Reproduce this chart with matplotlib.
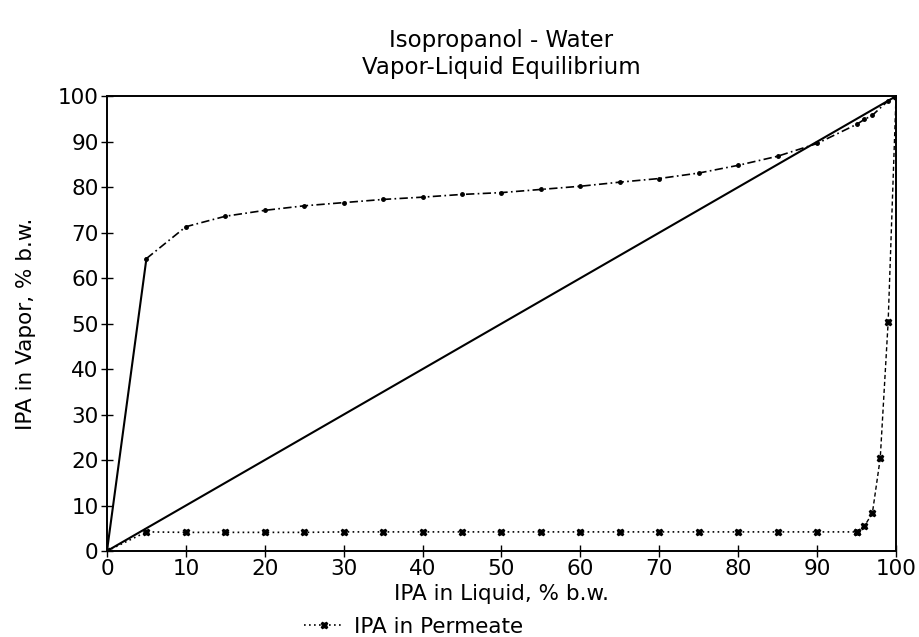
import numpy as np
import matplotlib
matplotlib.use('Agg')
import matplotlib.pyplot as plt
from matplotlib.lines import Line2D

# VLE curve (IPA in vapor vs IPA in liquid)
vle_x = [0, 5, 10, 15, 20, 25, 30, 35, 40, 45, 50, 55, 60, 65, 70, 75, 80, 85, 90, 95, 96, 97, 99, 100]
vle_y = [0, 64.3, 71.3, 73.6, 74.9, 75.9, 76.6, 77.3, 77.8, 78.4, 78.8, 79.5, 80.2, 81.1, 81.9,
         83.1, 84.8, 86.8, 89.6, 93.8, 94.9, 95.8, 99.0, 100]

# permeate curve
perm_x = [0, 5, 10, 15, 20, 25, 30, 35, 40, 45, 50, 55, 60, 65, 70, 75, 80, 85, 90, 95,
          96, 97, 98, 99, 100]
perm_y = [0, 4.2, 4.1, 4.1, 4.1, 4.1, 4.2, 4.2, 4.2, 4.2, 4.2, 4.2, 4.2, 4.2, 4.2, 4.2, 4.2,
          4.2, 4.2, 4.2, 5.5, 8.3, 20.4, 50.3, 100]

diag = [0, 100]

xticks = list(range(0, 101, 10))
yticks = list(range(0, 101, 10))

plt.rcParams['font.family'] = 'DejaVu Sans'

fig = plt.figure(figsize=(9.19, 6.37), dpi=100)
ax = fig.add_axes([0.1164, 0.135, 0.8586, 0.714])

# diagonal
ax.plot(diag, diag, color='black', lw=1.5)

# VLE: first segment solid, rest dash-dot with small dots
ax.plot(vle_x[:2], vle_y[:2], color='black', lw=1.5)
ax.plot(vle_x[1:], vle_y[1:], color='black', lw=1.2, ls=(0, (5, 2, 1, 2)),
        marker='o', ms=2.5)

# permeate: dotted up to 95, dashed beyond
ax.plot(perm_x[:20], perm_y[:20], color='black', lw=1.2, ls=(0, (1, 2)),
        marker='X', ms=4.5)
ax.plot(perm_x[19:], perm_y[19:], color='black', lw=1.0, ls=(0, (3, 2)),
        marker='X', ms=4.5)

ax.set_xlim(0, 100)
ax.set_ylim(0, 100)
ax.set_xticks(xticks)
ax.set_yticks(yticks)
ax.tick_params(direction='inout', length=8, width=1, labelsize=15.5, pad=2)
for s in ax.spines.values():
    s.set_linewidth(1.4)

ax.set_xlabel('IPA in Liquid, % b.w.', fontsize=15.5, labelpad=3)
ax.set_ylabel('IPA in Vapor, % b.w.', fontsize=15.5, labelpad=16)
ax.set_title('Isopropanol - Water\nVapor-Liquid Equilibrium', fontsize=16.5,
             linespacing=1.2, pad=16)

handle = Line2D([], [], color='black', lw=1.2, ls=(0, (1, 2)), marker='X', ms=4.5)
fig.legend([handle], ['IPA in Permeate'], loc='center', bbox_to_anchor=(0.45, 0.016),
           frameon=False, fontsize=15.5, handlelength=1.8, handletextpad=0.5,
           borderpad=0, borderaxespad=0)

fig.savefig('out.png', dpi=100)
